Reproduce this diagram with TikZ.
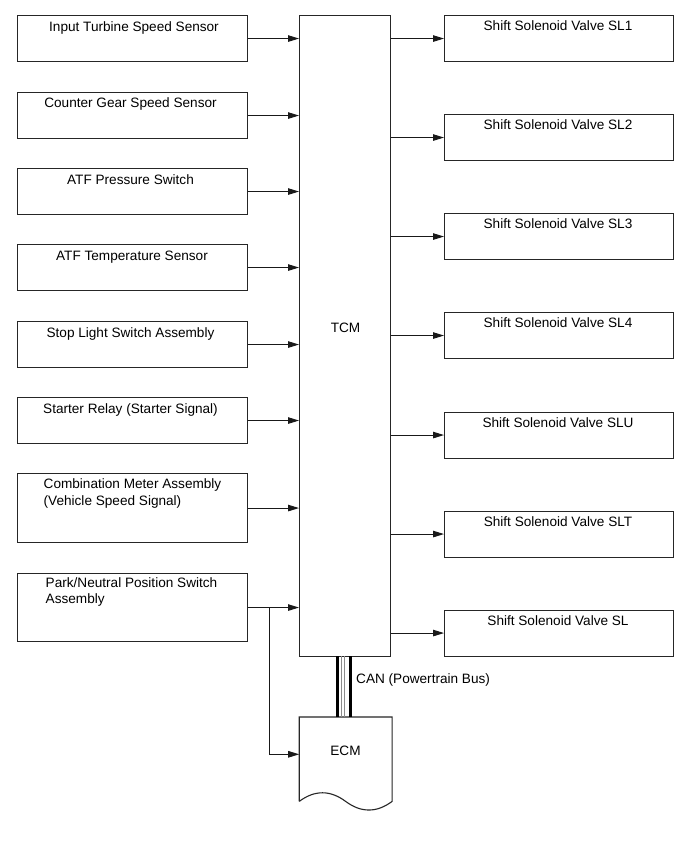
\documentclass[tikz,border=0pt]{standalone}
\usepackage{fontspec}
\setmainfont{Liberation Sans}
\usetikzlibrary{arrows.meta,calc}
\begin{document}
\begin{tikzpicture}[x=1pt,y=-1pt,
  box/.style={draw=black!85,line width=1.1pt,rectangle,inner sep=0pt,anchor=north west},
  lbl/.style={inner sep=0pt,font=\fontsize{13.6}{17}\selectfont},
  arr/.style={draw=black!90,line width=1pt,-{Triangle[length=11pt,width=6.5pt]}},
  ln/.style={draw=black!90,line width=1pt}]
\path[use as bounding box,fill=white] (0,0) rectangle (689,853);

% TCM
\node[box,minimum width=91pt,minimum height=641pt] (tcm) at (299,15) {};
\node[lbl,anchor=base] (tcmt) at (345.5,332.3) {TCM};

% left boxes
\node[box,minimum width=230pt,minimum height=46pt] (b1) at (17,15) {};
\node[box,minimum width=230pt,minimum height=46pt] (b2) at (17,92) {};
\node[box,minimum width=230pt,minimum height=46pt] (b3) at (17,168) {};
\node[box,minimum width=230pt,minimum height=46pt] (b4) at (17,244) {};
\node[box,minimum width=230pt,minimum height=46pt] (b5) at (17,321) {};
\node[box,minimum width=230pt,minimum height=46pt] (b6) at (17,397) {};
\node[box,minimum width=230pt,minimum height=69pt] (b7) at (17,473) {};
\node[box,minimum width=230pt,minimum height=68pt] (b8) at (17,573) {};

\node[lbl,anchor=base] (t1) at (134,32) {Input Turbine Speed Sensor};
\node[lbl,anchor=base] (t2) at (130.5,108) {Counter Gear Speed Sensor};
\node[lbl,anchor=base] (t3) at (130.5,184.5) {ATF Pressure Switch};
\node[lbl,anchor=base] (t4) at (132,260.5) {ATF Temperature Sensor};
\node[lbl,anchor=base] (t5) at (130.5,337) {Stop Light Switch Assembly};
\node[lbl,anchor=base] (t6) at (130.5,413.5) {Starter Relay (Starter Signal)};
\node[lbl,anchor=base west] (t7a) at (43.5,488.5) {Combination Meter Assembly};
\node[lbl,anchor=base west] (t7b) at (43.5,505) {(Vehicle Speed Signal)};
\node[lbl,anchor=base west] (t8a) at (45.5,587) {Park/Neutral Position Switch};
\node[lbl,anchor=base west] (t8b) at (45.5,603.5) {Assembly};

\foreach \b in {b1,b2,b3,b4,b5,b6,b7,b8}
  \draw[arr] (\b.east) -- (\b.east -| tcm.west);

% right boxes
\node[box,minimum width=229pt,minimum height=46pt] (s1) at (444,15) {};
\node[box,minimum width=229pt,minimum height=46pt] (s2) at (444,114) {};
\node[box,minimum width=229pt,minimum height=46pt] (s3) at (444,213) {};
\node[box,minimum width=229pt,minimum height=46pt] (s4) at (444,312) {};
\node[box,minimum width=229pt,minimum height=46pt] (s5) at (444,411.5) {};
\node[box,minimum width=229pt,minimum height=46pt] (s6) at (444,510.5) {};
\node[box,minimum width=229pt,minimum height=46pt] (s7) at (444,609.5) {};

\node[lbl,anchor=base] (u1) at (558,30.5) {Shift Solenoid Valve SL1};
\node[lbl,anchor=base] (u2) at (558,129.5) {Shift Solenoid Valve SL2};
\node[lbl,anchor=base] (u3) at (558,228.5) {Shift Solenoid Valve SL3};
\node[lbl,anchor=base] (u4) at (558,327.5) {Shift Solenoid Valve SL4};
\node[lbl,anchor=base] (u5) at (558,427) {Shift Solenoid Valve SLU};
\node[lbl,anchor=base] (u6) at (558,526) {Shift Solenoid Valve SLT};
\node[lbl,anchor=base] (u7) at (558,625) {Shift Solenoid Valve SL};

\foreach \s in {s1,s2,s3,s4,s5,s6,s7}
  \draw[arr] (\s.west -| tcm.east) -- (\s.west);

% ECM
\node[inner sep=0pt,minimum width=92.5pt,minimum height=84pt,anchor=north west] (ecm) at (299.2,717) {};
\coordinate (ecmmid) at ($(ecm.south west)!0.5!(ecm.south east)$);
\draw[draw=black!85,line width=1.1pt,line join=miter]
  (ecm.south west) -- (ecm.north west) -- (ecm.north east) -- (ecm.south east)
  .. controls +(-15.5,11.5) and +(15.5,11.5) .. (ecmmid)
  .. controls +(-15.5,-11.5) and +(15.5,-11.5) .. (ecm.south west);
\node[lbl,anchor=base] (ecmt) at (345.5,755.5) {ECM};

% branch to ECM
\coordinate (br) at ($(b8.east)+(21.7,0)$);
\coordinate (ecmin) at ($(ecm.north west)+(0,37.3)$);
\draw[arr] (br) |- (ecmin);

% CAN bus
\draw[line width=3pt,black] (337.7,656) -- (337.7,717);
\draw[line width=3.5pt,black] (350.7,656) -- (350.7,717);
\draw[line width=0.6pt,black!45] (341.3,656) -- (341.3,717);
\draw[line width=0.6pt,black!45] (343.8,656) -- (343.8,717);
\node[lbl,anchor=base west] (can) at (356,683) {CAN (Powertrain Bus)};
\end{tikzpicture}
\end{document}
